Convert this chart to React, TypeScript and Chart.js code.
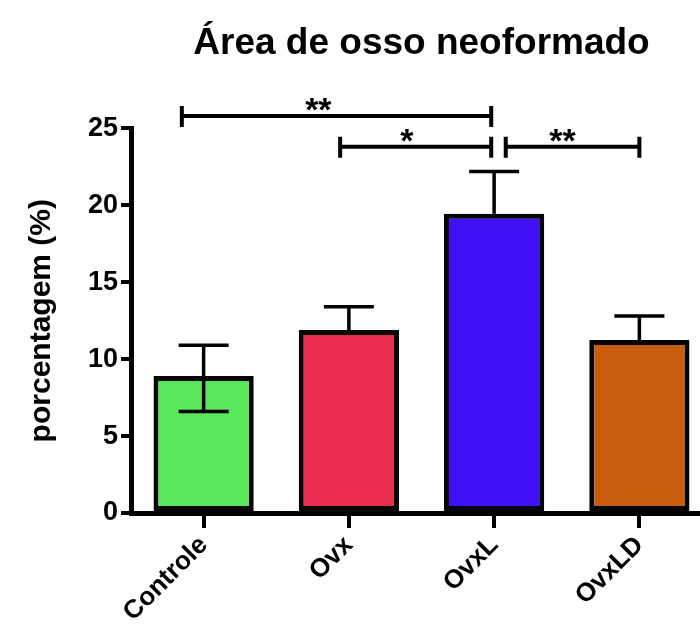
import React, { useEffect, useRef } from 'react';
import { Chart, registerables } from 'chart.js';

Chart.register(...registerables);

const title = 'Área de osso neoformado';
const yTitle = 'porcentagem (%)';
const categories = ['Controle', 'Ovx', 'OvxL', 'OvxLD'];
const means = [8.9, 11.9, 19.45, 11.25];
const errUpper = [10.9, 13.4, 22.2, 12.8];
const errLower: (number | null)[] = [6.6, null, null, null];
const barColors = ['#5ae65a', '#ea2d4f', '#3f10f5', '#c95d0e'];
const yMin = 0;
const yMax = 25;
const yStep = 5;
const bracketFrom = [-0.15, 0.94, 2.08];
const bracketTo = [1.98, 1.98, 3.0];
const bracketY = [25.8, 23.8, 23.8];
const bracketLabelAt = [0.79, 1.4, 2.47];
const bracketLabels = ['**', '*', '**'];

const FONT = '"Liberation Sans", Arial, Helvetica, sans-serif';

const overlayPlugin = {
  id: 'overlay',
  afterDatasetsDraw(chart: any) {
    const ctx = chart.ctx;
    const xs = chart.scales.x;
    const ys = chart.scales.y;
    ctx.save();
    ctx.strokeStyle = '#000';
    ctx.fillStyle = '#000';
    // error bars
    const capHalf = 25;
    ctx.lineWidth = 3.5;
    for (let i = 0; i < categories.length; i++) {
      const x = xs.getPixelForValue(i);
      const yTop = ys.getPixelForValue(errUpper[i]);
      const lo = errLower[i];
      const yBot = ys.getPixelForValue(lo != null ? lo : means[i]);
      ctx.beginPath();
      ctx.moveTo(x, yTop);
      ctx.lineTo(x, yBot);
      ctx.moveTo(x - capHalf, yTop);
      ctx.lineTo(x + capHalf, yTop);
      if (lo != null) {
        ctx.moveTo(x - capHalf, yBot);
        ctx.lineTo(x + capHalf, yBot);
      }
      ctx.stroke();
    }
    // significance brackets
    ctx.lineWidth = 4;
    ctx.font = `bold 34px ${FONT}`;
    ctx.textAlign = 'center';
    ctx.textBaseline = 'alphabetic';
    for (let i = 0; i < bracketLabels.length; i++) {
      const x1 = xs.getPixelForValue(bracketFrom[i]);
      const x2 = xs.getPixelForValue(bracketTo[i]);
      const y = ys.getPixelForValue(bracketY[i]);
      ctx.beginPath();
      ctx.moveTo(x1, y);
      ctx.lineTo(x2, y);
      ctx.moveTo(x1, y - 10);
      ctx.lineTo(x1, y + 11);
      ctx.moveTo(x2, y - 10);
      ctx.lineTo(x2, y + 11);
      ctx.stroke();
      ctx.fillText(bracketLabels[i], xs.getPixelForValue(bracketLabelAt[i]), y + 5);
    }
    ctx.restore();
  },
};

export default function App() {
  const ref = useRef<HTMLCanvasElement | null>(null);
  useEffect(() => {
    if (!ref.current) return;
    const chart = new Chart(ref.current, {
      type: 'bar',
      data: {
        labels: categories,
        datasets: [
          {
            data: means,
            backgroundColor: barColors,
            borderColor: '#050505',
            borderWidth: 5,
            borderSkipped: false,
            barPercentage: 0.69,
            categoryPercentage: 1,
          },
        ],
      },
      options: {
        responsive: false,
        animation: false,
        devicePixelRatio: 1,
        layout: { padding: 0 },
        plugins: {
          legend: { display: false },
          tooltip: { enabled: false },
          title: {
            display: true,
            text: title,
            fullSize: false,
            color: '#000',
            font: { family: FONT, size: 37, weight: 'bold' },
            padding: { top: 22, bottom: 62 },
          },
        },
        scales: {
          x: {
            offset: true,
            grid: {
              display: true,
              offset: false,
              drawOnChartArea: false,
              drawTicks: true,
              tickLength: 15,
              lineWidth: 4,
              color: '#000',
            },
            border: { display: true, width: 5, color: '#000' },
            ticks: {
              color: '#000',
              font: { family: FONT, size: 26, weight: 'bold' },
              minRotation: 45,
              maxRotation: 45,
              autoSkip: false,
              padding: 2,
            },
            afterFit(scale: any) {
              scale.height = 124;
            },
          },
          y: {
            min: yMin,
            max: yMax,
            grid: {
              display: true,
              drawOnChartArea: false,
              drawTicks: true,
              tickLength: 10,
              lineWidth: 4,
              color: '#000',
            },
            border: { display: true, width: 5, color: '#000' },
            ticks: {
              stepSize: yStep,
              color: '#000',
              font: { family: FONT, size: 27, weight: 'bold' },
              padding: 3,
            },
            title: {
              display: true,
              text: yTitle,
              color: '#000',
              font: { family: FONT, size: 30, weight: 'bold' },
              padding: { top: 24, bottom: 0 },
            },
            afterFit(scale: any) {
              scale.width = 131;
            },
          },
        },
      },
      plugins: [overlayPlugin],
    });
    return () => chart.destroy();
  }, []);
  return (
    <div
      style={{
        position: 'absolute',
        left: 0,
        top: 0,
        width: 700,
        height: 637,
        overflow: 'hidden',
        background: '#fff',
      }}
    >
      <canvas ref={ref} width={712} height={637} style={{ width: 712, height: 637, display: 'block' }} />
    </div>
  );
}
